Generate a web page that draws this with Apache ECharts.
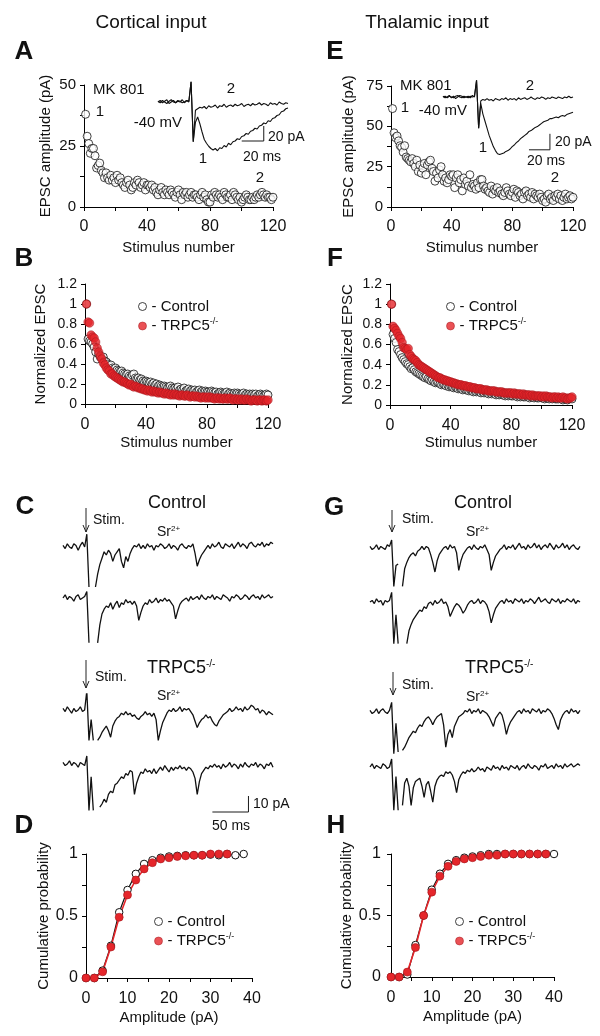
<!DOCTYPE html>
<html><head><meta charset="utf-8">
<script src="https://cdn.jsdelivr.net/npm/echarts@6/dist/echarts.min.js"></script>
<style>html,body{margin:0;padding:0;background:#fff}#c{width:600px;height:1036px}</style>
</head><body><div id="c"></div>
<script>
// ---------------- DATA ----------------
const stimulusNumbers = Array.from({length:120},(_,i)=>i+1);
// A: cortical EPSC amplitude (pA) under MK 801
const cortAmp = [38,29,26,22,24,24,21,16,17,18, 15,14,12,14,12,11,13,11,12,10, 13,11,12,10,9,8,10,11,9,7, 8,10,9,11,10,8,9,10,7,9,
  9,8,9,7,8,6,5,7,8,6, 5,7,6,5,7,6,5,4,6,7, 5,3,6,5,6,4,5,6,4,5, 5,4,3,5,6,4,5,3,2,2,
  5,4,6,5,4,5,4,3,6,5, 4,4,5,3,6,5,4,3,4,2, 3,4,5,4,3,3,4,3,4,5, 4,5,6,5,4,5,4,4,3,4];
// E: thalamic EPSC amplitude (pA)
const thalAmp = [61,46,43,44,41,38,37,34,38,31, 30,29,28,30,27,25,29,22,26,21, 24,27,20,26,28,29,24,22,16,21, 18,23,25,20,16,18,15,17,20,19,
  20,12,18,20,15,17,10,18,14,16, 13,20,12,14,13,11,15,12,17,17, 13,11,12,10,9,13,8,11,10,12, 9,10,8,7,9,12,10,8,7,9,
  11,6,10,9,7,8,5,9,10,7, 8,6,9,5,8,7,6,8,6,4, 5,3,7,8,5,6,4,7,6,8, 5,7,4,6,8,5,6,7,5,6];
// B: normalized EPSC, cortical
const cortNormControl = [1.00,0.65,0.63,0.62,0.60,0.57,0.52,0.45,0.50,0.47, 0.46,0.47,0.43,0.42,0.40,0.38,0.39,0.36,0.35,0.36,
  0.34,0.33,0.32,0.33,0.31,0.30,0.29,0.30,0.28,0.27, 0.29,0.30,0.26,0.25,0.26,0.24,0.25,0.23,0.22,0.23,
  0.22,0.21,0.22,0.20,0.21,0.19,0.20,0.18,0.19,0.18, 0.17,0.18,0.17,0.16,0.17,0.18,0.16,0.15,0.16,0.15,
  0.17,0.14,0.15,0.14,0.16,0.13,0.14,0.15,0.13,0.14, 0.13,0.14,0.12,0.13,0.14,0.12,0.13,0.12,0.13,0.12,
  0.12,0.11,0.13,0.12,0.11,0.12,0.10,0.11,0.12,0.11, 0.10,0.11,0.12,0.10,0.11,0.10,0.09,0.11,0.10,0.11,
  0.10,0.09,0.10,0.11,0.09,0.10,0.09,0.10,0.09,0.10, 0.09,0.10,0.08,0.09,0.10,0.09,0.08,0.09,0.10,0.09];
const cortNormTrpc5 = [1.00,0.82,0.81,0.69,0.67,0.66,0.62,0.56,0.52,0.48, 0.45,0.41,0.39,0.36,0.34,0.33,0.30,0.30,0.28,0.27,
  0.26,0.25,0.24,0.23,0.22,0.22,0.21,0.20,0.19,0.20, 0.18,0.17,0.18,0.17,0.16,0.16,0.15,0.15,0.14,0.14,
  0.13,0.14,0.13,0.12,0.13,0.12,0.12,0.11,0.12,0.11, 0.11,0.10,0.11,0.10,0.10,0.09,0.10,0.09,0.10,0.09,
  0.09,0.08,0.09,0.09,0.08,0.08,0.09,0.08,0.07,0.08, 0.08,0.07,0.08,0.07,0.07,0.06,0.07,0.07,0.06,0.07,
  0.06,0.07,0.06,0.06,0.05,0.06,0.06,0.05,0.06,0.05, 0.05,0.06,0.05,0.05,0.06,0.05,0.04,0.05,0.05,0.04,
  0.05,0.04,0.05,0.04,0.04,0.05,0.04,0.04,0.03,0.04, 0.04,0.04,0.03,0.04,0.04,0.03,0.04,0.04,0.03,0.04];
// F: normalized EPSC, thalamic
const thalNormControl = [1.00,0.70,0.66,0.62,0.55,0.53,0.50,0.47,0.45,0.43, 0.41,0.40,0.38,0.36,0.37,0.35,0.33,0.32,0.31,0.30,
  0.29,0.28,0.27,0.28,0.26,0.25,0.24,0.25,0.23,0.22, 0.23,0.22,0.21,0.20,0.21,0.20,0.19,0.20,0.18,0.19,
  0.18,0.17,0.18,0.17,0.16,0.17,0.16,0.15,0.16,0.15, 0.15,0.14,0.15,0.14,0.13,0.14,0.13,0.14,0.13,0.12,
  0.13,0.12,0.13,0.12,0.11,0.12,0.11,0.12,0.11,0.10, 0.11,0.10,0.11,0.10,0.10,0.09,0.10,0.09,0.10,0.09,
  0.09,0.10,0.09,0.08,0.09,0.08,0.09,0.08,0.08,0.09, 0.08,0.07,0.08,0.08,0.07,0.08,0.07,0.07,0.08,0.07,
  0.07,0.06,0.07,0.07,0.06,0.07,0.06,0.07,0.06,0.06, 0.06,0.07,0.06,0.05,0.06,0.06,0.05,0.06,0.07,0.06];
const thalNormTrpc5 = [1.00,0.78,0.76,0.74,0.71,0.68,0.66,0.62,0.57,0.56, 0.55,0.56,0.50,0.48,0.46,0.45,0.44,0.42,0.40,0.39,
  0.38,0.37,0.36,0.35,0.34,0.33,0.32,0.31,0.30,0.29, 0.28,0.27,0.27,0.26,0.25,0.25,0.24,0.24,0.23,0.23,
  0.22,0.22,0.21,0.21,0.20,0.20,0.20,0.19,0.19,0.19, 0.18,0.18,0.18,0.17,0.17,0.17,0.16,0.16,0.16,0.16,
  0.15,0.15,0.15,0.15,0.14,0.14,0.14,0.14,0.14,0.13, 0.13,0.13,0.13,0.13,0.12,0.12,0.12,0.12,0.12,0.12,
  0.11,0.12,0.11,0.11,0.11,0.11,0.10,0.11,0.10,0.10, 0.10,0.10,0.09,0.10,0.09,0.09,0.09,0.09,0.09,0.08,
  0.09,0.08,0.09,0.08,0.08,0.08,0.07,0.08,0.08,0.07, 0.08,0.07,0.07,0.08,0.07,0.07,0.06,0.07,0.07,0.08];
// D / H: cumulative probability vs amplitude (pA)
const ampControlD = [0,2,4,6,8,10,12,14,16,18,20,22,24,26,28,30,32,34,36,38];
const cumControlD = [0,0,0.06,0.26,0.53,0.71,0.84,0.92,0.95,0.97,0.98,0.985,0.99,0.99,0.99,0.995,0.99,1.0,0.99,1.0];
const ampTrpc5D = [0,2,4,6,8,10,12,14,16,18,20,22,24,26,28,30,32,34];
const cumTrpc5D = [0,0,0.05,0.25,0.49,0.67,0.79,0.88,0.93,0.96,0.97,0.98,0.985,0.99,0.99,1.0,1.0,1.0];
const ampControlH = [0,2,4,6,8,10,12,14,16,18,20,22,24,26,28,30,32,34,36,38,40];
const cumControlH = [0,0,0.02,0.26,0.50,0.71,0.84,0.92,0.95,0.97,0.98,0.99,1.0,1.0,1.0,1.0,1.0,1.0,1.0,1.0,1.0];
const ampTrpc5H = [0,2,4,6,8,10,12,14,16,18,20,22,24,26,28,30,32,34,36,38];
const cumTrpc5H = [0,0,0.04,0.24,0.50,0.69,0.82,0.90,0.94,0.96,0.97,0.98,0.99,0.99,1.0,1.0,1.0,1.0,1.0,1.0];
// Inset traces (pA, 2 ms sampling)
const insetDt = 2;
const cortInset1 = [1,-1,2,0,-2,1,3,0,-1,2,1,-1,0,2,1,27,-53,-27,-20,-29,-40,-50,-55,-59,-62,-64,-62,-65,-61,-62,-58,-60,-55,-57,-53,-52,-49,-50,-46,-45,-42,-43,-39,-38,-35,-36,-32,-31,-28,-29,-25,-26,-22,-21,-18,-17,-13,-12,-9,-8];
const cortInset2 = [0,2,-1,1,3,-2,0,2,-1,1,0,3,-1,2,0,27,-53,-11,-9,-7,-8,-6,-9,-5,-7,-6,-4,-8,-5,-6,-3,-7,-5,-4,-6,-3,-5,-4,-2,-6,-4,-3,-5,-2,-4,-3,-1,-4,-2,-3,-5,-1,-3,-2,-4,0,-2,-3,-1,-2];
const thalInset1 = [0,1,-1,1,0,-1,1,2,0,-1,1,0,-1,1,0,1,21,-39,-8,-21,-30,-39,-48,-55,-62,-67,-71,-72,-71,-70,-68,-67,-65,-62,-60,-57,-55,-52,-50,-48,-46,-43,-42,-40,-38,-37,-35,-33,-31,-30,-29,-27,-27,-26,-25,-26,-24,-23,-24,-22,-21,-20,-19];
const thalInset2 = [1,-1,0,2,-1,1,-2,0,2,1,-1,0,1,-1,2,0,21,-39,-5,-3,-4,-2,-4,-3,-5,-2,-3,-4,-2,-3,-1,-4,-2,-3,-2,-4,-1,-3,-2,-1,-3,-2,0,-2,-3,-1,-2,0,-1,-3,-1,-2,0,-1,-2,0,-1,-2,0,-1,1,-1,0];
// Sr2+ traces (pA, 3 ms sampling)
const srDt = 3;
const cortCtl1 = [1,-1,2,0,-1,2,1,-2,1,3,0,8,-25,null,null,-25,-17,-11,-7,-3,-5,-2,-4,-9,-5,-3,-1,-9,-13,-6,-9,-4,-1,1,0,2,-1,1,-1,2,0,1,-2,1,0,2,1,-1,0,2,-1,1,0,-2,1,2,0,-1,1,0,2,-4,-12,-8,-5,-3,-1,1,-1,2,0,1,3,0,-1,2,1,0,2,-1,1,3,0,2,1,-1,2,3,1,0,2,1,3,0,2,1,3,2];
const cortCtl2 = [0,2,-1,1,0,-2,1,2,-1,0,1,4,-28,null,null,null,-28,-17,-10,-7,-5,-6,-3,-7,-4,-2,-6,-3,-4,-1,-3,-2,-4,-2,-5,-14,-9,-5,-3,-4,-1,-3,-2,0,-3,-1,-2,0,-2,-1,-3,-5,-13,-8,-4,-2,-1,0,-2,1,-1,0,1,-1,2,0,-1,1,0,2,-1,1,0,-1,2,1,0,-2,1,0,2,1,-1,0,2,1,-1,1,2,0,1,-1,2,0,1,2,0,1];
const cortKo1 = [1,-1,2,0,-2,1,-1,0,2,-1,0,12,-19,-6,-19,null,-19,-17,-14,-12,-10,-13,-17,-10,-7,-5,-4,-2,-3,-1,-3,-2,-4,-3,-5,-6,-4,-3,-1,-3,-2,-4,-2,-6,-19,-13,-8,-5,-2,0,-1,1,-1,0,2,-1,1,0,1,-1,-3,-7,-11,-8,-6,-5,-3,-5,-4,-7,-9,-10,-7,-5,-3,-2,-1,1,-1,0,2,0,1,-1,2,0,1,3,2,0,1,-2,0,-1,-3,-1,-2,-3];
const cortKo2 = [1,-1,0,2,-1,1,0,-2,1,0,-1,5,-29,-8,-29,null,null,-27,-25,-22,-24,-19,-17,-18,-13,-12,-10,-8,-9,-6,-7,-4,-5,-19,-12,-8,-5,-6,-3,-5,-4,-6,-3,-6,-4,-2,-4,-1,-3,-5,-2,-4,-2,-3,-1,-3,-2,-4,-2,-3,-5,-9,-19,-11,-6,-4,-2,-3,-1,-2,0,-2,-1,-3,0,-2,-1,1,-2,0,-1,-3,0,-2,1,-1,-2,0,-1,1,-2,0,-1,-3,0,-1,1,-2];
const thalCtl1 = [1,-1,0,2,-1,1,0,-1,2,1,5,-24,-11,-10,null,-24,-13,-9,-6,-4,-3,-5,-2,-1,1,-1,1,0,-4,-9,-15,-8,-4,-2,0,1,-1,2,0,1,-3,-14,-8,-4,-2,0,1,-1,2,0,-1,1,0,2,-1,-4,-14,-9,-5,-3,-1,0,2,-1,1,0,2,-1,1,3,0,1,-1,2,0,1,3,0,2,-1,1,2,0,3,1,-1,2,0,1,3,0,2,-1,1,2,0,-1,1];
const thalCtl2 = [0,1,-1,2,0,1,-2,1,0,1,6,-26,-8,-26,null,null,null,-26,-18,-14,-11,-9,-7,-5,-6,-3,-4,-1,0,-2,1,-1,0,2,-1,0,-3,-9,-6,-3,-1,-2,-4,-7,-5,-2,0,1,-1,0,2,-1,1,0,-2,-6,-13,-8,-4,-2,0,1,-1,2,0,1,-1,2,1,0,2,-1,1,0,2,1,-1,1,3,0,1,2,0,-1,2,1,0,2,-1,1,0,2,1,0,2,-1,1,0];
const thalKo1 = [1,-1,0,2,-1,1,2,0,-1,1,6,-26,-7,-25,null,-24,-22,-19,-16,-14,-12,-13,-10,-8,-9,-6,-4,-3,-5,-8,-5,-3,-2,-1,-8,-22,-14,-11,-16,-9,-6,-3,-2,-1,1,0,2,-1,1,0,2,-1,1,0,-1,-3,-6,-9,-4,-2,0,-2,-7,-14,-9,-6,-4,-2,0,1,-1,2,0,1,-1,2,1,0,2,-1,1,0,2,1,-1,-4,-8,-11,-5,-2,0,1,-1,2,0,1,-1,1];
const thalKo2 = [0,2,-1,1,0,-1,2,1,-1,0,5,-27,-6,-27,null,-24,-10,-7,-12,-24,-13,-9,-8,-7,-12,-19,-11,-9,-15,-22,-12,-8,-6,-5,-6,-3,-4,-3,-5,-9,-16,-8,-5,-3,-4,-2,-3,-1,-3,-2,0,-2,-1,-3,0,-1,-2,1,-1,0,-2,1,-1,0,-2,1,0,-1,1,-2,0,1,-1,2,0,-1,1,0,-2,1,0,2,-1,0,1,-1,2,0,1,-1,2,0,1,2,0,1,2,1];
// scale bars: sizes (ms, pA)
const insetScale = {ms:20, pA:20};
const srScale = {ms:50, pA:10};

// ---------------- STYLE / LAYOUT ----------------
const FONT = '"Liberation Sans", Arial, Helvetica, sans-serif';
const RED = '#e5262b', RED_EDGE = '#a3161b', INK = '#111';
const grids=[], xAxes=[], yAxes=[], series=[], legends=[], graphics=[];

function addGrid(left, top, width, height){ grids.push({left, top, width, height}); return grids.length-1; }
function visAxis(gi, min, max, interval, o){
  return {type:'value', gridIndex:gi, min, max, interval,
    name:o.name, nameLocation:'middle', nameGap:o.gap,
    nameTextStyle:{fontSize:15, color:INK, fontFamily:FONT},
    axisLine:{show:true, onZero:false, lineStyle:{color:'#000', width:1}},
    axisTick:{show:true, length:4, lineStyle:{color:'#000', width:1}},
    minorTick:{show:!!o.minor, splitNumber:2, length:4, lineStyle:{color:'#000', width:1}},
    axisLabel:{fontSize:o.size, color:INK, fontFamily:FONT, margin:o.margin},
    splitLine:{show:false}};
}
function hidAxis(gi, min, max){ return {type:'value', gridIndex:gi, min, max, show:false}; }

function openScatter(gi, xs, ys, name){
  return {type:'scatter', name, xAxisIndex:gi, yAxisIndex:gi, symbol:'circle', symbolSize:8,
    itemStyle:{color:'#fff', borderColor:INK, borderWidth:1}, data: ys.map((v,i)=>[xs[i], v])};
}
function redScatter(gi, xs, ys){
  return {type:'scatter', name:'TRPC5', xAxisIndex:gi, yAxisIndex:gi, symbol:'circle', symbolSize:8.5,
    itemStyle:{color:RED, borderColor:RED_EDGE, borderWidth:0.6}, data: ys.map((v,i)=>[xs[i], v])};
}
function traceSeries(gi, vals, dt, width){
  return {type:'line', xAxisIndex:gi, yAxisIndex:gi, showSymbol:false, symbol:'none', connectNulls:false,
    lineStyle:{color:'#111', width:width||1}, data: vals.map((v,i)=>[i*dt, v]), silent:true, z:3};
}
function scaleBarSeries(gi, s, tEnd, yBase){
  return {type:'line', xAxisIndex:gi, yAxisIndex:gi, showSymbol:false, symbol:'none', clip:false,
    lineStyle:{color:'#1a1a1a', width:1}, silent:true,
    data:[[tEnd - s.ms, yBase],[tEnd, yBase],[tEnd, yBase + s.pA]]};
}

// ---- A ----
let g = addGrid(84,85,189,122);
xAxes.push(visAxis(g,0,120,40,{name:'Stimulus number', gap:33, size:16, margin:12, minor:true}));
yAxes.push(visAxis(g,0,50,25,{name:'EPSC amplitude (pA)', gap:31, size:15, margin:8, minor:true}));
series.push(openScatter(g, stimulusNumbers, cortAmp, 'cortAmp'));
// ---- E ----
g = addGrid(391,86,182,121);
xAxes.push(visAxis(g,0,120,40,{name:'Stimulus number', gap:33, size:16, margin:12, minor:true}));
yAxes.push(visAxis(g,0,75,25,{name:'EPSC amplitude (pA)', gap:35, size:15, margin:8, minor:true}));
series.push(openScatter(g, stimulusNumbers, thalAmp, 'thalAmp'));
// ---- B ----
g = addGrid(85,284,183,120);
xAxes.push(visAxis(g,0,120,40,{name:'Stimulus number', gap:31, size:16, margin:13, minor:true}));
yAxes.push(visAxis(g,0,1.2,0.2,{name:'Normalized EPSC', gap:37, size:14, margin:8}));
series.push(openScatter(g, stimulusNumbers, cortNormControl, 'Control'));
series.push(redScatter(g, stimulusNumbers, cortNormTrpc5));
// ---- F ----
g = addGrid(390,284,182,121);
xAxes.push(visAxis(g,0,120,40,{name:'Stimulus number', gap:30, size:16, margin:13, minor:true}));
yAxes.push(visAxis(g,0,1.2,0.2,{name:'Normalized EPSC', gap:35, size:14, margin:8}));
series.push(openScatter(g, stimulusNumbers, thalNormControl, 'Control'));
series.push(redScatter(g, stimulusNumbers, thalNormTrpc5));
// ---- D / H ----
function cumPanel(left, top, width, height, ac, cc, ar, cr, ygap, ymargin){
  const gi = addGrid(left, top, width, height);
  xAxes.push(visAxis(gi,0,40,10,{name:'Amplitude (pA)', gap:32, size:16, margin:13, minor:true}));
  yAxes.push(visAxis(gi,0,1,0.5,{name:'Cumulative probability', gap:ygap, size:16, margin:ymargin, minor:true}));
  series.push({type:'line', name:'Control', xAxisIndex:gi, yAxisIndex:gi, symbol:'circle', symbolSize:7.5, showSymbol:true,
    itemStyle:{color:'#fff', borderColor:INK, borderWidth:1}, lineStyle:{color:INK, width:1.2},
    data: cc.map((v,i)=>[ac[i], v])});
  series.push({type:'line', name:'TRPC5', xAxisIndex:gi, yAxisIndex:gi, symbol:'circle', symbolSize:8, showSymbol:true,
    itemStyle:{color:RED, borderColor:RED_EDGE, borderWidth:0.6}, lineStyle:{color:RED, width:1.6},
    data: cr.map((v,i)=>[ar[i], v])});
}
cumPanel(86,854,166,124, ampControlD, cumControlD, ampTrpc5D, cumTrpc5D, 34, 8);
cumPanel(391,854,163,123, ampControlH, cumControlH, ampTrpc5H, cumTrpc5H, 35, 10);

// ---- insets ----
g = addGrid(158,78,130,75);
xAxes.push(hidAxis(g,0,118)); yAxes.push(hidAxis(g,-68,32));
series.push(traceSeries(g, cortInset2, insetDt, 1.1));
series.push(traceSeries(g, cortInset1, insetDt, 1.1));
series.push(scaleBarSeries(g, insetScale, 96, -52));
g = addGrid(443,77,130,80);
xAxes.push(hidAxis(g,0,124)); yAxes.push(hidAxis(g,-75,25));
series.push(traceSeries(g, thalInset2, insetDt, 1.1));
series.push(traceSeries(g, thalInset1, insetDt, 1.1));
series.push(scaleBarSeries(g, insetScale, 102, -66));

// ---- Sr2+ traces ----
function srTrace(left, baselineY, vals){
  const gi = addGrid(left, baselineY-16, 210, 80);
  xAxes.push(hidAxis(gi,0,291)); yAxes.push(hidAxis(gi,-40,10));
  series.push(traceSeries(gi, vals, srDt, 1.3));
  return gi;
}
srTrace(63,547,cortCtl1); srTrace(63,598,cortCtl2); srTrace(63,710,cortKo1);
const gC4 = srTrace(63,764,cortKo2);
series.push(scaleBarSeries(gC4, srScale, 257, -30));
srTrace(370,548,thalCtl1); srTrace(370,602,thalCtl2); srTrace(370,712,thalKo1); srTrace(370,767,thalKo2);

// ---- legends ----
function mkLegend(left, top){
  return {left, top, orient:'vertical', itemGap:3, itemWidth:8, itemHeight:8, selectedMode:false,
    data:[{name:'Control', icon:'circle', itemStyle:{color:'#fff', borderColor:INK, borderWidth:1}},
          {name:'TRPC5', icon:'circle', itemStyle:{color:RED, borderColor:RED_EDGE, borderWidth:0.6}}],
    formatter: n => n==='Control' ? '{m|- Control}' : '{m|- TRPC5}{s|-/-}',
    textStyle:{fontSize:15, color:INK, fontFamily:FONT,
      rich:{m:{fontSize:15, color:INK, fontFamily:FONT, lineHeight:18}, s:{fontSize:9, color:INK, fontFamily:FONT, verticalAlign:'top', lineHeight:18}}}};
}
legends.push(mkLegend(133,294)); legends.push(mkLegend(441,294));
legends.push(mkLegend(149,909)); legends.push(mkLegend(450,909));

// ---- texts ----
function txt(x, y, text, size, o){
  o = o || {};
  const st = {text, x:0, y:0, fill:INK, font:(o.bold?'bold ':'')+size+'px '+FONT,
    textAlign:o.align||'left', align:o.align||'left', textVerticalAlign:'middle', verticalAlign:'middle'};
  if (o.rich) st.rich = o.rich;
  graphics.push({type:'text', x, y, silent:true, style:st, z:10});
}
const supRich = (base, sup) => ({m:{fontSize:base, fontFamily:FONT, fill:INK, color:INK}, s:{fontSize:sup, fontFamily:FONT, fill:INK, color:INK, verticalAlign:'top'}});
function arrow(x, y1, y2){
  graphics.push({type:'line', silent:true, shape:{x1:x,y1:y1,x2:x,y2:y2}, style:{stroke:'#222', lineWidth:1}});
  graphics.push({type:'polyline', silent:true, shape:{points:[[x-3,y2-7],[x,y2],[x+3,y2-7]]}, style:{stroke:'#222', lineWidth:1, fill:null}});
}
txt(151,23,'Cortical input',19,{align:'center'});
txt(427,23,'Thalamic input',19,{align:'center'});
[['A',24,52],['E',335,52],['B',24,259],['F',335,259],['C',25,507],['G',334,508],['D',24,826],['H',336,826]]
  .forEach(([l,x,y])=>txt(x,y,l,26,{bold:true, align:'center'}));
// A annotations
txt(93,90,'MK 801',15); txt(100,112,'1',15,{align:'center'}); txt(260,178,'2',15,{align:'center'});
txt(231,89,'2',15,{align:'center'}); txt(203,159,'1',15,{align:'center'});
txt(182,123,'-40 mV',15,{align:'right'});
txt(268,137,'20 pA',14); txt(262,157,'20 ms',14,{align:'center'});
// E annotations
txt(400,86,'MK 801',15); txt(405,108,'1',15,{align:'center'}); txt(555,178,'2',15,{align:'center'});
txt(530,86,'2',15,{align:'center'}); txt(483,148,'1',15,{align:'center'});
txt(467,111,'-40 mV',15,{align:'right'});
txt(555,142,'20 pA',14); txt(546,161,'20 ms',14,{align:'center'});
// C / G annotations
txt(177,503,'Control',18,{align:'center'}); txt(483,503,'Control',18,{align:'center'});
txt(147,668,'{m|TRPC5}{s|-/-}',18,{rich:supRich(18,10)});
txt(465,668,'{m|TRPC5}{s|-/-}',18,{rich:supRich(18,10)});
txt(93,520,'Stim.',14); txt(95,677,'Stim.',14); txt(402,519,'Stim.',14); txt(402,685,'Stim.',14);
[[157,532],[157,696],[466,532],[466,697]].forEach(([x,y])=>txt(x,y,'{m|Sr}{s|2+}',14,{rich:supRich(14,8)}));
arrow(86,508,532); arrow(86,660,688); arrow(392,510,532); arrow(393,672,695);
txt(253,804,'10 pA',14); txt(231,826,'50 ms',14,{align:'center'});

const chart = echarts.init(document.getElementById('c'), null, {renderer:'canvas'});
chart.setOption({animation:false, backgroundColor:'#fff', grid:grids, xAxis:xAxes, yAxis:yAxes,
  series, legend:legends, graphic:{elements:graphics}, tooltip:{show:false}});
</script></body></html>
